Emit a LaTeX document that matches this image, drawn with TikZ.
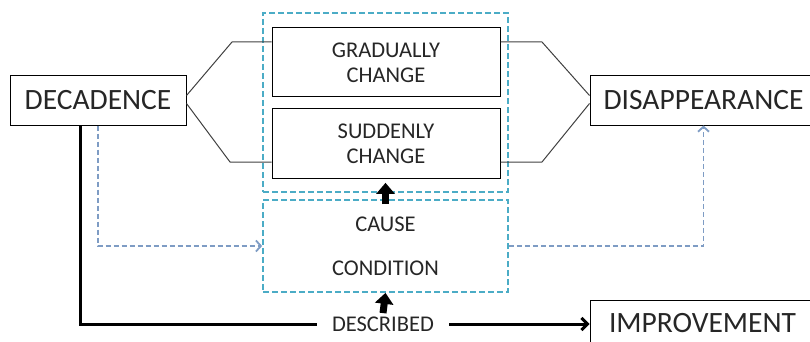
\documentclass[tikz,border=0pt]{standalone}
\usepackage{fontspec}
\setmainfont{Carlito}
\usetikzlibrary{arrows.meta,positioning}
\definecolor{framecol}{HTML}{4BACC6}
\definecolor{flowcol}{HTML}{7E9CC4}

\begin{document}
\begin{tikzpicture}[x=1pt,y=-1pt,node distance=11pt,
  bigbox/.style={draw=black, line width=1pt, minimum height=49pt, inner xsep=12pt, text=black!85, font=\fontsize{29.5}{33}\selectfont},
  smallbox/.style={draw=black, line width=1pt, minimum width=228pt, minimum height=69pt, align=center, text=black!85, font=\fontsize{22.5}{25}\selectfont},
  dashbox/.style={draw=framecol, line width=1.7pt, dash pattern=on 6pt off 3pt, align=center, text=black!85, font=\fontsize{22.5}{25}\selectfont},
  thinline/.style={draw=black!75, line width=1pt},
  thickline/.style={draw=black, line width=3pt},
  flowline/.style={draw=flowcol, line width=1.8pt, dash pattern=on 5pt off 3pt, -{Straight Barb[length=5pt,width=11pt]}},
  blockarrow/.style={draw=black, line width=7pt, -{Triangle[width=18pt,length=11pt]}}]
\path[use as bounding box, clip] (0,0) rectangle (810,342);
%Nodes
\node[bigbox, minimum width=176pt]      (decbox) at (98,100.5) {DECADENCE};
\node[bigbox, minimum width=227pt]      (disbox) at (703.5,100.5) {DISAPPEARANCE};
\node[bigbox, minimum width=225pt, minimum height=46pt] (impbox) at (702.5,323) {IMPROVEMENT};
\node[dashbox, minimum width=245pt, minimum height=179pt] (changebox) at (385.5,102.5) {};
\node[smallbox]     (gradbox) at (386,62.5) {GRADUALLY\\CHANGE};
\node[smallbox]     (suddbox) [below=of gradbox] {SUDDENLY\\CHANGE};
\node[dashbox, minimum width=245pt, minimum height=92pt] (condbox) at (385.5,246) {CAUSE\\[19pt]CONDITION};
\node[inner xsep=15pt, text=black!85, font=\fontsize{22.5}{25}\selectfont] (described) at (383,324) {DESCRIBED};

\coordinate (la) at (232,42);
\coordinate (lb) at (230,162);
\coordinate (ra) at (542,42);
\coordinate (rb) at (542,162);

\draw[thinline] ([yshift=5pt]decbox.east) -- (la) -- (gradbox.west |- la);
\draw[thinline] ([yshift=-3pt]decbox.east) -- (lb) -- (suddbox.west |- lb);
\draw[thinline] (gradbox.east |- ra) -- (ra) -- ([yshift=5pt]disbox.west);
\draw[thinline] (suddbox.east |- rb) -- (rb) -- ([yshift=-3pt]disbox.west);

\draw[flowline] (decbox.south) |- (condbox.west);
\draw[flowline] (condbox.east) -| (disbox.south);

\draw[blockarrow] ([yshift=-5pt]condbox.north) -- ([yshift=10pt]changebox.south);
\draw[blockarrow] (described.north) -- (condbox.south);

\draw[thickline] ([xshift=-18pt]decbox.south) |- (described.west);
\draw[thickline, -{Straight Barb[length=6pt,width=12pt]}] (described.east) -- (impbox.west |- described);
\end{tikzpicture}
\end{document}
